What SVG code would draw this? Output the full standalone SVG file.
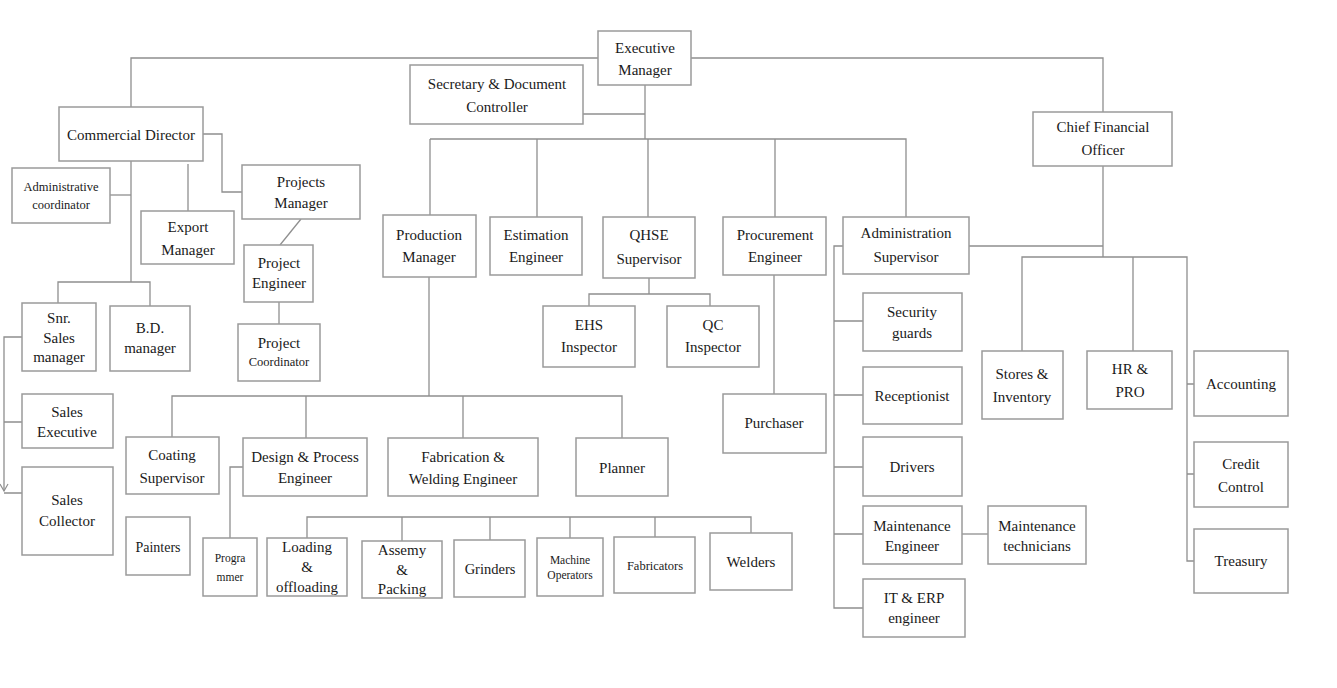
<svg xmlns="http://www.w3.org/2000/svg" width="1337" height="688" viewBox="0 0 1337 688">
<defs>
<style>
.c{fill:none;stroke:#8f8f8f;stroke-width:1.3}
.n rect{fill:#fff;stroke:#9a9a9a;stroke-width:1.5}
.n text{font-family:"Liberation Serif","Times New Roman",serif;font-size:15px;fill:#1a1a1a;text-anchor:middle}
.s text{font-size:12.5px}
.xs text{font-size:11.5px}
</style>
<marker id="arr" markerWidth="10" markerHeight="10" refX="8" refY="5" orient="auto" markerUnits="userSpaceOnUse" viewBox="0 0 10 10">
<path d="M1,1 L8,5 L1,9" fill="none" stroke="#8f8f8f" stroke-width="1.2"/>
</marker>
</defs>
<rect width="1337" height="688" fill="#fff"/>
<g id="connectors">
<path class="c" d="M131,107 V58 H1103 V112"/>
<path class="c" d="M645,85 V139"/>
<path class="c" d="M583,114 H645"/>
<path class="c" d="M430,139 H906 V217"/>
<path class="c" d="M430,139 V215 M537,139 V217 M648,139 V217 M775,139 V217"/>
<path class="c" d="M203,134 H222 V192 H242"/>
<path class="c" d="M131,161 V282"/>
<path class="c" d="M110,195 H131"/>
<path class="c" d="M188,164 V211"/>
<path class="c" d="M301,219 L280,245"/>
<path class="c" d="M279,302 V324"/>
<path class="c" d="M58,303 V282 H150 V306"/>
<path class="c" d="M22,337 H4 V491" marker-end="url(#arr)"/>
<path class="c" d="M4,422 H22 M4,493 H22"/>
<path class="c" d="M649,278 V294 M589,306 V294 H710 V306"/>
<path class="c" d="M774,275 V394"/>
<path class="c" d="M429,277 V396"/>
<path class="c" d="M172,437 V396 H622 V438 M306,396 V438 M463,396 V438"/>
<path class="c" d="M244,467 H230 V538"/>
<path class="c" d="M307,538 V517 H751 V533 M402,517 V541 M490,517 V540 M570,517 V538 M655,517 V537"/>
<path class="c" d="M843,246 H834 V608 H863 M834,321 H863 M834,395 H863 M834,467 H863 M834,534 H863"/>
<path class="c" d="M962,534 H988"/>
<path class="c" d="M969,246 H1103 M1103,166 V257"/>
<path class="c" d="M1022,351 V257 H1187 V561 H1194 M1133,257 V351 M1187,384 H1194 M1187,474 H1194"/>
</g>
<g id="executive-manager" class="n"><rect x="598" y="31" width="93" height="54"/><text x="645" y="53">Executive</text><text x="645" y="75">Manager</text></g>
<g id="secretary" class="n"><rect x="410" y="65" width="173" height="59"/><text x="497" y="89">Secretary &amp; Document</text><text x="497" y="112">Controller</text></g>
<g id="commercial-director" class="n"><rect x="59" y="107" width="144" height="54"/><text x="131" y="140">Commercial Director</text></g>
<g id="admin-coordinator" class="n s"><rect x="12" y="168" width="98" height="55"/><text x="61" y="191">Administrative</text><text x="61" y="209">coordinator</text></g>
<g id="projects-manager" class="n"><rect x="242" y="165" width="118" height="54"/><text x="301" y="187">Projects</text><text x="301" y="208">Manager</text></g>
<g id="export-manager" class="n"><rect x="141" y="211" width="93" height="53"/><text x="188" y="232">Export</text><text x="188" y="255">Manager</text></g>
<g id="project-engineer" class="n"><rect x="244" y="245" width="69" height="57"/><text x="279" y="268">Project</text><text x="279" y="288">Engineer</text></g>
<g id="project-coordinator" class="n"><rect x="238" y="324" width="82" height="57"/><text x="279" y="348">Project</text><text x="279" y="366" style="font-size:12.5px">Coordinator</text></g>
<g id="snr-sales-manager" class="n"><rect x="22" y="303" width="74" height="68"/><text x="59" y="323">Snr.</text><text x="59" y="343">Sales</text><text x="59" y="362">manager</text></g>
<g id="bd-manager" class="n"><rect x="110" y="306" width="80" height="65"/><text x="150" y="333">B.D.</text><text x="150" y="353">manager</text></g>
<g id="sales-executive" class="n"><rect x="22" y="394" width="91" height="54"/><text x="67" y="417">Sales</text><text x="67" y="437">Executive</text></g>
<g id="sales-collector" class="n"><rect x="22" y="467" width="91" height="88"/><text x="67" y="505">Sales</text><text x="67" y="526">Collector</text></g>
<g id="production-manager" class="n"><rect x="383" y="215" width="93" height="62"/><text x="429" y="240">Production</text><text x="429" y="262">Manager</text></g>
<g id="estimation-engineer" class="n"><rect x="490" y="217" width="92" height="58"/><text x="536" y="240">Estimation</text><text x="536" y="262">Engineer</text></g>
<g id="qhse-supervisor" class="n"><rect x="603" y="217" width="92" height="61"/><text x="649" y="240">QHSE</text><text x="649" y="264">Supervisor</text></g>
<g id="procurement-engineer" class="n"><rect x="723" y="217" width="103" height="58"/><text x="775" y="240">Procurement</text><text x="775" y="262">Engineer</text></g>
<g id="administration-supervisor" class="n"><rect x="843" y="217" width="126" height="57"/><text x="906" y="238">Administration</text><text x="906" y="262">Supervisor</text></g>
<g id="ehs-inspector" class="n"><rect x="543" y="306" width="92" height="61"/><text x="589" y="330">EHS</text><text x="589" y="352">Inspector</text></g>
<g id="qc-inspector" class="n"><rect x="667" y="306" width="92" height="61"/><text x="713" y="330">QC</text><text x="713" y="352">Inspector</text></g>
<g id="purchaser" class="n"><rect x="723" y="394" width="103" height="59"/><text x="774" y="428">Purchaser</text></g>
<g id="chief-financial-officer" class="n"><rect x="1033" y="112" width="139" height="54"/><text x="1103" y="132">Chief Financial</text><text x="1103" y="155">Officer</text></g>
<g id="coating-supervisor" class="n"><rect x="126" y="437" width="93" height="57"/><text x="172" y="460">Coating</text><text x="172" y="483">Supervisor</text></g>
<g id="design-process-engineer" class="n"><rect x="243" y="438" width="124" height="58"/><text x="305" y="462">Design &amp; Process</text><text x="305" y="483">Engineer</text></g>
<g id="fabrication-welding-engineer" class="n"><rect x="388" y="438" width="150" height="58"/><text x="463" y="462">Fabrication &amp;</text><text x="463" y="484">Welding Engineer</text></g>
<g id="planner" class="n"><rect x="576" y="438" width="92" height="58"/><text x="622" y="473">Planner</text></g>
<g id="painters" class="n"><rect x="126" y="517" width="64" height="58"/><text x="158" y="552" style="font-size:14px">Painters</text></g>
<g id="programmer" class="n xs"><rect x="203" y="538" width="54" height="58"/><text x="230" y="562">Progra</text><text x="230" y="581">mmer</text></g>
<g id="loading-offloading" class="n"><rect x="267" y="538" width="80" height="58"/><text x="307" y="552">Loading</text><text x="307" y="572">&amp;</text><text x="307" y="592">offloading</text></g>
<g id="assemy-packing" class="n"><rect x="362" y="541" width="80" height="57"/><text x="402" y="555">Assemy</text><text x="402" y="575">&amp;</text><text x="402" y="594">Packing</text></g>
<g id="grinders" class="n"><rect x="454" y="540" width="71" height="57"/><text x="490" y="574" style="font-size:14.5px">Grinders</text></g>
<g id="machine-operators" class="n xs"><rect x="537" y="538" width="66" height="58"/><text x="570" y="564">Machine</text><text x="570" y="579">Operators</text></g>
<g id="fabricators" class="n s"><rect x="614" y="537" width="81" height="56"/><text x="655" y="570">Fabricators</text></g>
<g id="welders" class="n"><rect x="710" y="533" width="82" height="57"/><text x="751" y="567">Welders</text></g>
<g id="security-guards" class="n"><rect x="863" y="293" width="99" height="58"/><text x="912" y="317">Security</text><text x="912" y="338">guards</text></g>
<g id="receptionist" class="n"><rect x="863" y="367" width="99" height="57"/><text x="912" y="401">Receptionist</text></g>
<g id="drivers" class="n"><rect x="863" y="437" width="99" height="59"/><text x="912" y="472">Drivers</text></g>
<g id="maintenance-engineer" class="n"><rect x="863" y="506" width="99" height="58"/><text x="912" y="531">Maintenance</text><text x="912" y="551">Engineer</text></g>
<g id="maintenance-technicians" class="n"><rect x="988" y="506" width="98" height="58"/><text x="1037" y="531">Maintenance</text><text x="1037" y="551">technicians</text></g>
<g id="it-erp-engineer" class="n"><rect x="863" y="579" width="102" height="58"/><text x="914" y="603">IT &amp; ERP</text><text x="914" y="623">engineer</text></g>
<g id="stores-inventory" class="n"><rect x="982" y="351" width="81" height="68"/><text x="1022" y="379">Stores &amp;</text><text x="1022" y="402">Inventory</text></g>
<g id="hr-pro" class="n"><rect x="1087" y="351" width="85" height="58"/><text x="1130" y="374">HR &amp;</text><text x="1130" y="397">PRO</text></g>
<g id="accounting" class="n"><rect x="1194" y="351" width="94" height="65"/><text x="1241" y="389">Accounting</text></g>
<g id="credit-control" class="n"><rect x="1194" y="442" width="94" height="65"/><text x="1241" y="469">Credit</text><text x="1241" y="492">Control</text></g>
<g id="treasury" class="n"><rect x="1194" y="529" width="94" height="64"/><text x="1241" y="566">Treasury</text></g>
</svg>
